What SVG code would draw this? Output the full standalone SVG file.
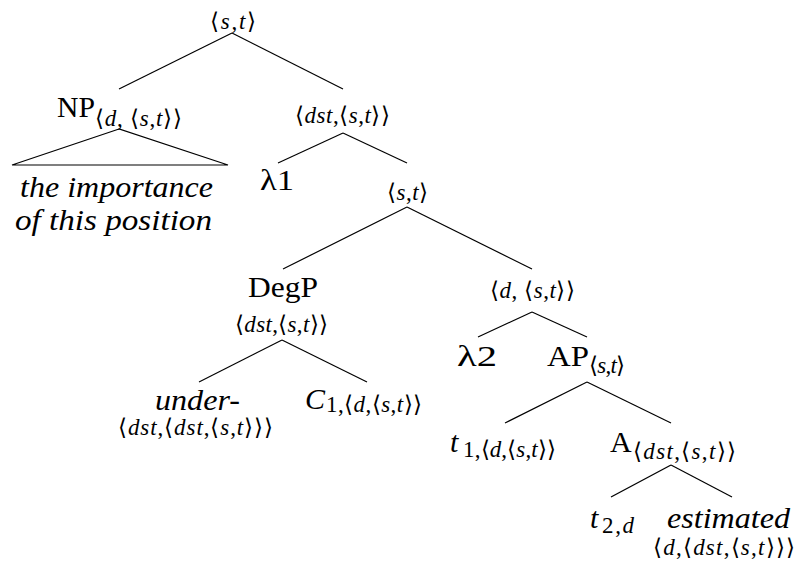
<svg xmlns="http://www.w3.org/2000/svg" width="796" height="565" viewBox="0 0 796 565">
<style>
text { font-family: "Liberation Serif", serif; fill: #000; }
.m { font-size: 30px; }
.s { font-size: 23px; }
.i { font-style: italic; }
#connectors line, #connectors polygon { stroke: #000; stroke-width: 1.2; fill: none; }
</style>
<rect width="796" height="565" fill="#fff"/>
<g id="connectors">
<line x1="232" y1="33" x2="119" y2="89"/>
<line x1="232" y1="33" x2="343" y2="89"/>
<polygon points="119,129 12,165 228,165"/>
<line x1="343" y1="133" x2="278" y2="163"/>
<line x1="343" y1="133" x2="407" y2="163"/>
<line x1="407" y1="207" x2="283" y2="269"/>
<line x1="407" y1="207" x2="532" y2="269"/>
<line x1="282" y1="340" x2="199" y2="382"/>
<line x1="282" y1="340" x2="367" y2="382"/>
<line x1="532" y1="312" x2="478" y2="337"/>
<line x1="532" y1="312" x2="587" y2="337"/>
<line x1="587" y1="382" x2="505" y2="423"/>
<line x1="587" y1="382" x2="671" y2="423"/>
<line x1="671" y1="465" x2="611" y2="497"/>
<line x1="671" y1="465" x2="732" y2="497"/>
</g>
<g id="root">
<text class="s" x="210" y="29" textLength="46" lengthAdjust="spacing">⟨<tspan class="i">s</tspan>,<tspan class="i">t</tspan>⟩</text>
</g>
<g id="np">
<text class="m" x="57" y="117" textLength="38" lengthAdjust="spacingAndGlyphs">NP</text>
<text class="s" x="95" y="126" textLength="87" lengthAdjust="spacing">⟨<tspan class="i">d</tspan>, ⟨<tspan class="i">s</tspan>,<tspan class="i">t</tspan>⟩⟩</text>
</g>
<g id="np-leaf">
<text class="m i" x="20" y="197" textLength="193" lengthAdjust="spacingAndGlyphs">the importance</text>
<text class="m i" x="15" y="230" textLength="197" lengthAdjust="spacingAndGlyphs">of this position</text>
</g>
<g id="dst1">
<text class="s" x="295" y="123" textLength="95" lengthAdjust="spacing">⟨<tspan class="i">dst</tspan>,⟨<tspan class="i">s</tspan>,<tspan class="i">t</tspan>⟩⟩</text>
</g>
<g id="lambda1">
<text class="m" x="260" y="190" textLength="34" lengthAdjust="spacingAndGlyphs" font-size="33">λ1</text>
</g>
<g id="st2">
<text class="s" x="387" y="200" textLength="41" lengthAdjust="spacing">⟨<tspan class="i">s</tspan>,<tspan class="i">t</tspan>⟩</text>
</g>
<g id="degp">
<text class="m" x="248" y="297" textLength="70" lengthAdjust="spacingAndGlyphs">DegP</text>
<text class="s" x="235" y="332" textLength="93" lengthAdjust="spacing">⟨<tspan class="i">dst</tspan>,⟨<tspan class="i">s</tspan>,<tspan class="i">t</tspan>⟩⟩</text>
</g>
<g id="under">
<text class="m i" x="155" y="410" textLength="85" lengthAdjust="spacingAndGlyphs">under-</text>
<text class="s" x="118" y="435" textLength="155" lengthAdjust="spacing">⟨<tspan class="i">dst</tspan>,⟨<tspan class="i">dst</tspan>,⟨<tspan class="i">s</tspan>,<tspan class="i">t</tspan>⟩⟩⟩</text>
</g>
<g id="c1">
<text class="m i" x="305" y="409" font-size="32">C</text>
<text class="s" x="326" y="412" textLength="96" lengthAdjust="spacing">1,⟨<tspan class="i">d</tspan>,⟨<tspan class="i">s</tspan>,<tspan class="i">t</tspan>⟩⟩</text>
</g>
<g id="dst2">
<text class="s" x="490" y="298" textLength="85" lengthAdjust="spacing">⟨<tspan class="i">d</tspan>, ⟨<tspan class="i">s</tspan>,<tspan class="i">t</tspan>⟩⟩</text>
</g>
<g id="lambda2">
<text class="m" x="457" y="366" textLength="40" lengthAdjust="spacingAndGlyphs" font-size="33">λ2</text>
</g>
<g id="ap">
<text class="m" x="547" y="366" textLength="42" lengthAdjust="spacingAndGlyphs">AP</text>
<text class="s" x="589" y="373" textLength="36" lengthAdjust="spacing">⟨<tspan class="i">s</tspan>,<tspan class="i">t</tspan>⟩</text>
</g>
<g id="t1">
<text class="m i" x="450" y="452" font-size="34">t</text>
<text class="s" x="463" y="457" textLength="93" lengthAdjust="spacing">1,⟨<tspan class="i">d</tspan>,⟨<tspan class="i">s</tspan>,<tspan class="i">t</tspan>⟩⟩</text>
</g>
<g id="a">
<text class="m" x="610" y="452">A</text>
<text class="s" x="633" y="459" textLength="103" lengthAdjust="spacing">⟨<tspan class="i">dst</tspan>,⟨<tspan class="i">s</tspan>,<tspan class="i">t</tspan>⟩⟩</text>
</g>
<g id="t2">
<text class="m i" x="590" y="528" font-size="34">t</text>
<text class="s" x="602" y="533" textLength="32" lengthAdjust="spacing">2,<tspan class="i">d</tspan></text>
</g>
<g id="estimated">
<text class="m i" x="667" y="528" textLength="123" lengthAdjust="spacingAndGlyphs">estimated</text>
<text class="s" x="653" y="555" textLength="142" lengthAdjust="spacing">⟨<tspan class="i">d</tspan>,⟨<tspan class="i">dst</tspan>,⟨<tspan class="i">s</tspan>,<tspan class="i">t</tspan>⟩⟩⟩</text>
</g>
</svg>
